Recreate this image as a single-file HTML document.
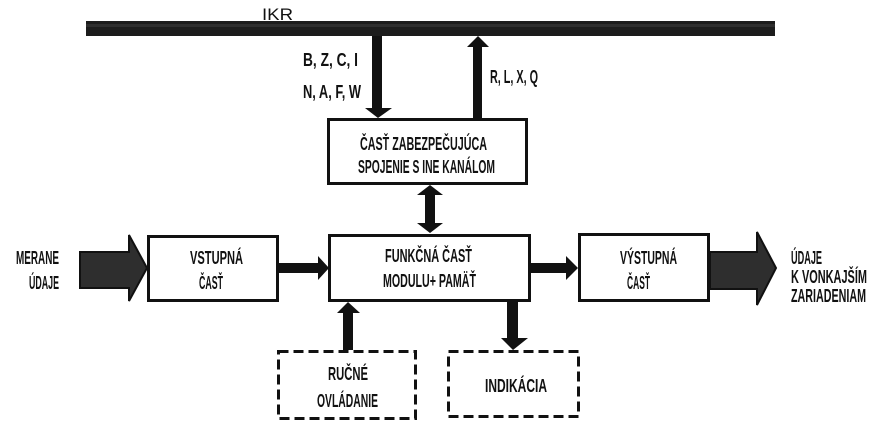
<!DOCTYPE html>
<html><head><meta charset="utf-8"><style>
html,body{margin:0;padding:0;background:#fff;}
svg{display:block;}
text{font-family:"Liberation Sans",sans-serif;}
.b{font-weight:bold;font-size:18px;fill:#111;}
</style></head><body>
<svg width="877" height="433" viewBox="0 0 877 433" xmlns="http://www.w3.org/2000/svg">
<rect width="877" height="433" fill="#fff"/>
<!-- IKR bus -->
<text x="262" y="20" font-size="17" fill="#111" textLength="31" lengthAdjust="spacingAndGlyphs">IKR</text>
<rect x="86" y="21" width="689" height="15" fill="#1c1c1c"/>
<rect x="86" y="24" width="689" height="3" fill="#3a3a3a" opacity="0.6"/>

<!-- down arrow to box1 -->
<rect x="372" y="36" width="10" height="73" fill="#111"/>
<polygon points="365,108 392,108 378,118" fill="#111"/>
<!-- up arrow from box1 -->
<rect x="473" y="45" width="9" height="74" fill="#111"/>
<polygon points="467,47 489,47 478,36" fill="#111"/>

<!-- labels near bus -->
<text class="b" x="303" y="66" textLength="55" lengthAdjust="spacingAndGlyphs">B, Z, C, I</text>
<text class="b" x="303" y="98" textLength="58" lengthAdjust="spacingAndGlyphs">N, A, F, W</text>
<text class="b" x="490" y="83" textLength="48" lengthAdjust="spacingAndGlyphs">R, L, X, Q</text>

<!-- box1 -->
<rect x="328.5" y="119.5" width="198" height="64" fill="none" stroke="#111" stroke-width="3"/>
<text class="b" x="360" y="150" textLength="127" lengthAdjust="spacingAndGlyphs">ČASŤ ZABEZPEČUJÚCA</text>
<text class="b" x="358" y="173" textLength="137" lengthAdjust="spacingAndGlyphs">SPOJENIE S INE KANÁLOM</text>

<!-- double arrow -->
<rect x="425" y="194" width="10" height="30" fill="#111"/>
<polygon points="417,195 443,195 430,185" fill="#111"/>
<polygon points="417,223 443,223 430,233" fill="#111"/>

<!-- input arrow -->
<polygon points="80,252 129,252 129,235 147,268 129,301 129,288 80,288" fill="#2e2e2e" stroke="#111" stroke-width="2"/>
<text class="b" x="16" y="264" textLength="43" lengthAdjust="spacingAndGlyphs">MERANE</text>
<text class="b" x="29" y="289" textLength="30" lengthAdjust="spacingAndGlyphs">ÚDAJE</text>

<!-- vstupna -->
<rect x="148.5" y="236.5" width="129" height="64" fill="none" stroke="#111" stroke-width="3"/>
<text class="b" x="190" y="264" textLength="53" lengthAdjust="spacingAndGlyphs">VSTUPNÁ</text>
<text class="b" x="199" y="289" textLength="24" lengthAdjust="spacingAndGlyphs">ČASŤ</text>

<!-- arrow vstupna -> funkcna -->
<rect x="279" y="263" width="41" height="10" fill="#111"/>
<polygon points="318,256 329,268 318,280" fill="#111"/>

<!-- funkcna -->
<rect x="329.5" y="235.5" width="200" height="65" fill="none" stroke="#111" stroke-width="3"/>
<text class="b" x="385" y="262" textLength="87" lengthAdjust="spacingAndGlyphs">FUNKČNÁ  ČASŤ</text>
<text class="b" x="383" y="287" textLength="93" lengthAdjust="spacingAndGlyphs">MODULU+ PAMÄŤ</text>

<!-- arrow funkcna -> vystupna -->
<rect x="531" y="263" width="37" height="10" fill="#111"/>
<polygon points="566,256 578,268 566,280" fill="#111"/>

<!-- vystupna -->
<rect x="579.5" y="234.5" width="129" height="66" fill="none" stroke="#111" stroke-width="3"/>
<text class="b" x="620" y="264" textLength="57" lengthAdjust="spacingAndGlyphs">VÝSTUPNÁ</text>
<text class="b" x="627" y="289" textLength="23" lengthAdjust="spacingAndGlyphs">ČASŤ</text>

<!-- output arrow -->
<polygon points="710,252 757,252 757,232 776,268 757,305 757,289 710,289" fill="#2e2e2e" stroke="#111" stroke-width="2"/>
<text class="b" x="791" y="264" textLength="31" lengthAdjust="spacingAndGlyphs">ÚDAJE</text>
<text class="b" x="791" y="283" textLength="76" lengthAdjust="spacingAndGlyphs">K VONKAJŠÍM</text>
<text class="b" x="791" y="302" textLength="75" lengthAdjust="spacingAndGlyphs">ZARIADENIAM</text>

<!-- rucne up arrow -->
<rect x="343" y="312" width="10" height="38" fill="#111"/>
<polygon points="337,313 360,313 348,302" fill="#111"/>

<!-- rucne dashed -->
<rect x="278.5" y="351.5" width="137" height="67" fill="none" stroke="#111" stroke-width="3" stroke-dasharray="10,5"/>
<text class="b" x="328" y="380" textLength="40" lengthAdjust="spacingAndGlyphs">RUČNÉ</text>
<text class="b" x="317" y="407" textLength="61" lengthAdjust="spacingAndGlyphs">OVLÁDANIE</text>

<!-- indikacia down arrow -->
<rect x="507" y="302" width="11" height="37" fill="#111"/>
<polygon points="501,338 528,338 513,350" fill="#111"/>

<!-- indikacia dashed -->
<rect x="448.5" y="351.5" width="130" height="65" fill="none" stroke="#111" stroke-width="3" stroke-dasharray="10,5"/>
<text class="b" x="485" y="392" textLength="62" lengthAdjust="spacingAndGlyphs">INDIKÁCIA</text>
</svg>
</body></html>
